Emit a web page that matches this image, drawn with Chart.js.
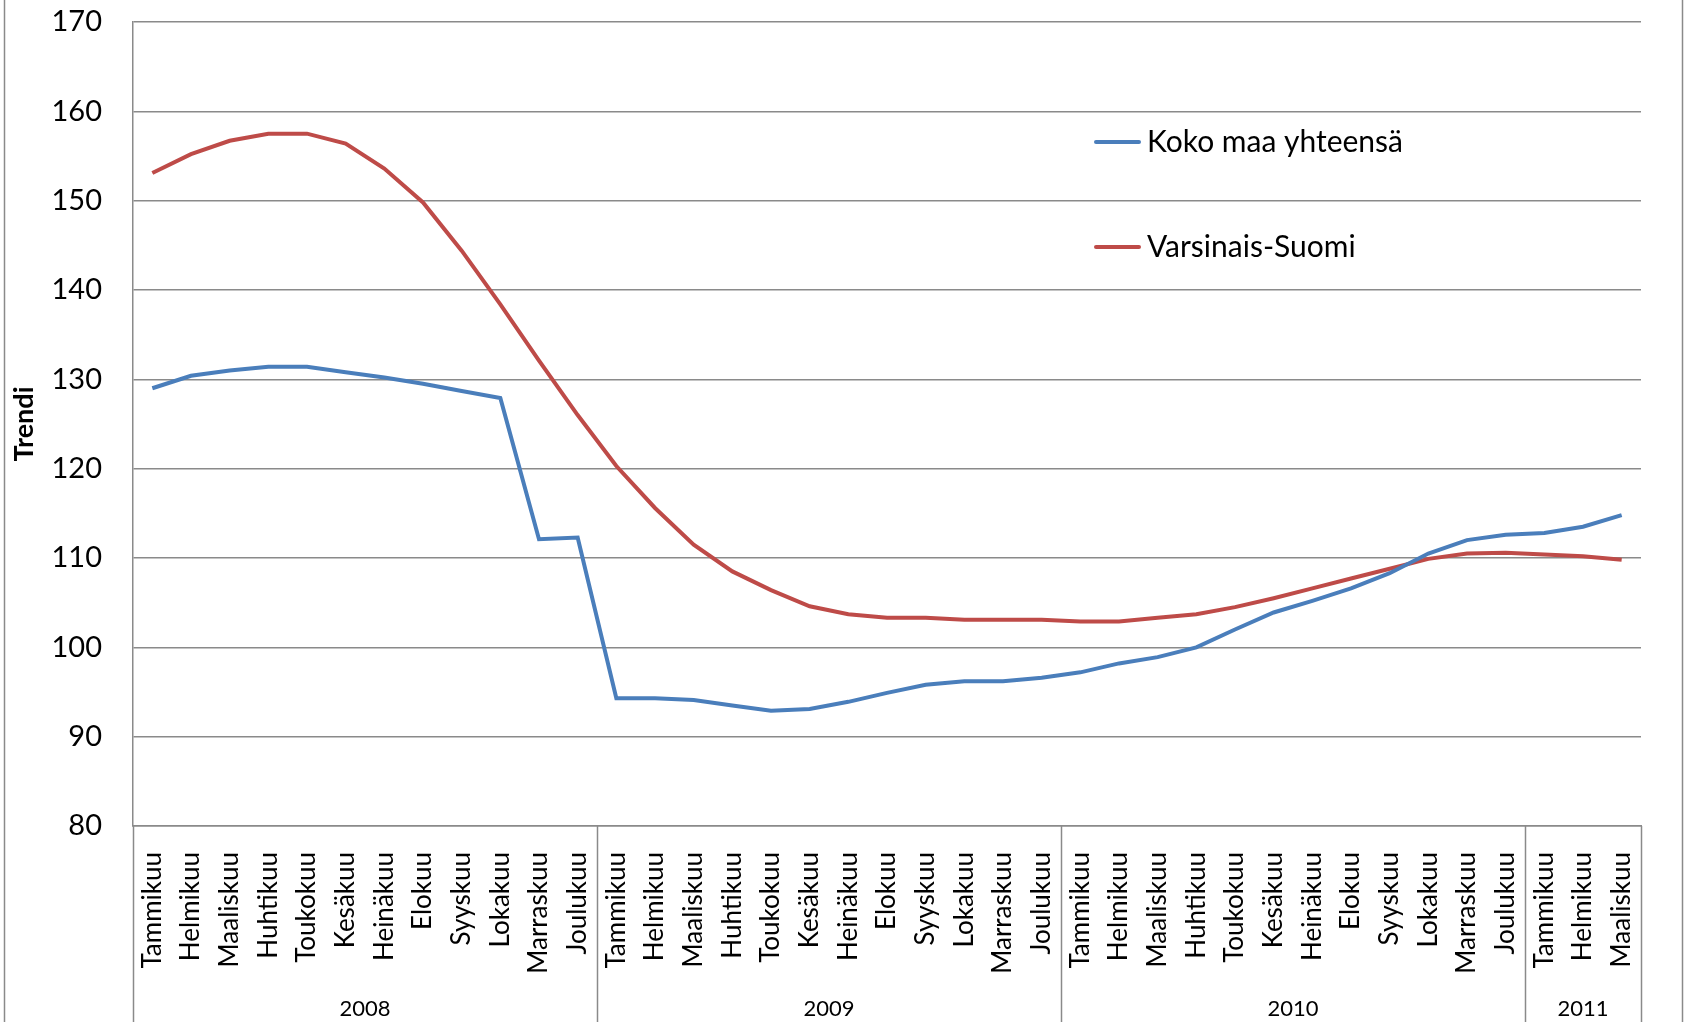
<!DOCTYPE html>
<html>
<head>
<meta charset="utf-8">
<script src="https://cdn.jsdelivr.net/npm/chart.js@4.4.1/dist/chart.umd.min.js"></script>
<style>
  body { margin: 0; background: #fff; }
  #wrap { width: 1686px; height: 1022px; }
</style>
</head>
<body>
<div id="wrap"><canvas id="myChart" width="1686" height="1022"></canvas></div>
<script>
// kuukaudet ja vuodet
const months = ['Tammikuu', 'Helmikuu', 'Maaliskuu', 'Huhtikuu', 'Toukokuu', 'Kesäkuu',
                'Heinäkuu', 'Elokuu', 'Syyskuu', 'Lokakuu', 'Marraskuu', 'Joulukuu'];
const years = ['2008', '2009', '2010', '2011'];
const monthsPerYear = [12, 12, 12, 3];

// sarjat (trendi)
const kokoMaa = [129.0, 130.4, 131.0, 131.4, 131.4, 130.8, 130.2, 129.5, 128.7, 127.9, 112.1, 112.3,
                 94.3, 94.3, 94.1, 93.5, 92.9, 93.1, 93.9, 94.9, 95.8, 96.2, 96.2, 96.6,
                 97.2, 98.2, 98.9, 100.0, 102.0, 103.9, 105.2, 106.6, 108.3, 110.5, 112.0, 112.6,
                 112.8, 113.5, 114.8];
const varsinaisSuomi = [153.1, 155.2, 156.7, 157.5, 157.5, 156.4, 153.6, 149.8, 144.4, 138.4, 132.1, 126.0,
                        120.3, 115.6, 111.5, 108.5, 106.4, 104.6, 103.7, 103.3, 103.3, 103.1, 103.1, 103.1,
                        102.9, 102.9, 103.3, 103.7, 104.5, 105.5, 106.6, 107.7, 108.8, 109.9, 110.5, 110.6,
                        110.4, 110.2, 109.8];

const yMin = 80, yMax = 170, yStep = 10;

const labels = [];
monthsPerYear.forEach(n => labels.push(...months.slice(0, n)));

const font = 'Lato, "Open Sans", sans-serif';
const gridColor = '#8a8a8a';

// vuosirivi, erottimet, kehys ja selite
const extras = {
    id: 'extras',
    afterDraw(chart) {
        const ctx = chart.ctx;
        const area = chart.chartArea;
        const x = chart.scales.x;
        const step = x.getPixelForValue(1) - x.getPixelForValue(0);
        ctx.save();
        ctx.strokeStyle = gridColor;
        ctx.lineWidth = 1.5;
        ctx.strokeRect(4.5, -5, 1678, chart.height + 10);

        let idx = 0;
        const edges = [area.left];
        monthsPerYear.forEach(n => {
            idx += n;
            edges.push(x.getPixelForValue(idx - 1) + step / 2);
        });
        edges.forEach(px => {
            ctx.beginPath();
            ctx.moveTo(Math.round(px) + 0.5, area.bottom);
            ctx.lineTo(Math.round(px) + 0.5, chart.height);
            ctx.stroke();
        });

        ctx.fillStyle = '#000';
        ctx.font = '22px ' + font;
        ctx.textAlign = 'center';
        ctx.textBaseline = 'middle';
        years.forEach((yr, i) => {
            ctx.fillText(yr, (edges[i] + edges[i + 1]) / 2, 1009);
        });

        // selite
        ctx.font = '30px ' + font;
        ctx.textAlign = 'left';
        ctx.lineCap = 'round';
        ctx.lineWidth = 4;
        const legendY = [142, 247];
        chart.data.datasets.forEach((ds, i) => {
            ctx.strokeStyle = ds.borderColor;
            ctx.beginPath();
            ctx.moveTo(1096, legendY[i]);
            ctx.lineTo(1139, legendY[i]);
            ctx.stroke();
            ctx.fillText(ds.label, 1147, legendY[i]);
        });
        ctx.restore();
    }
};

new Chart(document.getElementById('myChart'), {
    type: 'line',
    data: {
        labels: labels,
        datasets: [{
            label: 'Koko maa yhteensä',
            data: kokoMaa,
            borderColor: '#4a7ebb',
            borderWidth: 4,
            pointRadius: 0,
            tension: 0
        }, {
            label: 'Varsinais-Suomi',
            data: varsinaisSuomi,
            borderColor: '#be4b48',
            borderWidth: 4,
            pointRadius: 0,
            tension: 0
        }]
    },
    options: {
        responsive: false,
        animation: false,
        layout: { padding: { top: 0, right: 45, left: 0, bottom: 0 } },
        plugins: {
            legend: { display: false },
            tooltip: { enabled: false }
        },
        scales: {
            x: {
                offset: true,
                grid: { display: false, drawTicks: false },
                border: { display: true, color: gridColor, width: 1.5 },
                ticks: {
                    autoSkip: false,
                    minRotation: 90,
                    maxRotation: 90,
                    padding: 26,
                    color: '#000',
                    font: { family: font, size: 26 }
                },
                afterFit(scale) { scale.height = 196; }
            },
            y: {
                min: yMin,
                max: yMax,
                grid: { color: gridColor, lineWidth: 1.5, drawTicks: false },
                border: { display: true, color: gridColor, width: 1.5 },
                ticks: {
                    stepSize: yStep,
                    padding: 31,
                    color: '#000',
                    font: { family: font, size: 29 }
                },
                title: {
                    display: true,
                    text: 'Trendi',
                    color: '#000',
                    padding: { top: 8, bottom: 0 },
                    font: { family: font, size: 27, weight: 'bold' }
                },
                afterFit(scale) {
                    scale.width = 133;
                    scale.paddingTop = 22;
                }
            }
        }
    },
    plugins: [extras]
});
</script>
</body>
</html>
